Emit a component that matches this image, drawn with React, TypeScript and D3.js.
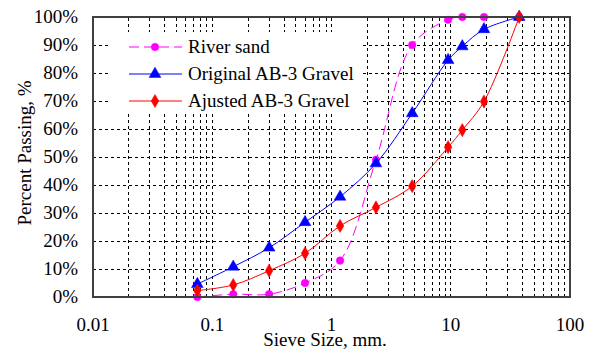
import * as d3 from "d3";

const sieveSizes = [0.075, 0.15, 0.3, 0.6, 1.18, 2.36, 4.75, 9.5, 12.5, 19, 37.5];
const riverSand = [0, 1, 1, 5, 13, 49, 90, 99, 100, 100, 100];
const originalAB3 = [4.6, 10.8, 17.6, 26.7, 35.8, 47.7, 65.6, 84.6, 89.5, 95.6, 100];
const adjustedAB3 = [2.3, 4.3, 9.4, 15.6, 25.4, 32, 39.6, 53.5, 59.6, 69.8, 100];
const seriesNames = ["River sand", "Original AB-3 Gravel", "Ajusted AB-3 Gravel"];
const xTicks = [0.01, 0.1, 1, 10, 100];
const yTicks = [0, 10, 20, 30, 40, 50, 60, 70, 80, 90, 100];

const W = 595;
const H = 350;
const M = { top: 17, right: 25, bottom: 53, left: 93 };
const FONT = '"Liberation Serif", "DejaVu Serif", "Times New Roman", serif';

const series = [
  { name: seriesNames[0], values: riverSand, color: "#ff00ff", dash: "10,5", marker: "circle" },
  { name: seriesNames[1], values: originalAB3, color: "#0000ff", dash: null, marker: "triangle" },
  { name: seriesNames[2], values: adjustedAB3, color: "#ff0000", dash: null, marker: "diamond" },
];

function Marker({ type, x, y, color }: { type: string; x: number; y: number; color: string }) {
  const sym =
    type === "circle" ? d3.symbolCircle : type === "triangle" ? d3.symbolTriangle : d3.symbolDiamond;
  const size = type === "circle" ? 45 : type === "triangle" ? 60 : 50;
  const p = d3.symbol().type(sym).size(size)();
  return <path d={p || ""} transform={`translate(${x},${y})`} fill={color} stroke={color} strokeWidth={0.5} />;
}

export default function App() {
  const x = d3.scaleLog().domain([0.01, 100]).range([M.left, W - M.right]);
  const y = d3.scaleLinear().domain([0, 100]).range([H - M.bottom, M.top]);

  // minor log grid: 1..9 in each decade
  const minor: number[] = [];
  [0.01, 0.1, 1, 10].forEach((d) => {
    for (let k = 2; k <= 9; k++) minor.push(d * k);
  });
  minor.push(0.1, 1, 10);

  const line = d3
    .line<number>()
    .x((_, i) => x(sieveSizes[i]))
    .y((d) => y(d))
    .curve(d3.curveCatmullRom.alpha(0.5));

  const legend = { x0: 110, y0: 32, x1: 363, y1: 113 };
  const txt = { fontFamily: FONT, fontSize: 19, fill: "#000" };

  return (
    <svg width={W} height={H} style={{ display: "block", position: "absolute", left: 0, top: 0 }}>
      <rect width={W} height={H} fill="#fff" />
      <g stroke="#000" strokeWidth={1} strokeDasharray="3,3" shapeRendering="crispEdges">
        {minor.map((d, i) => (
          <line key={"v" + i} x1={x(d)} x2={x(d)} y1={y(0)} y2={y(100)} />
        ))}
        {yTicks.slice(1, -1).map((d) => (
          <line key={"h" + d} x1={x(0.01)} x2={x(100)} y1={y(d)} y2={y(d)} />
        ))}
      </g>
      <rect x={legend.x0} y={legend.y0} width={legend.x1 - legend.x0} height={legend.y1 - legend.y0} fill="#fff" />
      {series.map((s) => (
        <g key={s.name}>
          <path d={line(s.values) || ""} fill="none" stroke={s.color} strokeWidth={1} strokeDasharray={s.dash || undefined} />
          {s.values.map((v, i) => (
            <Marker key={i} type={s.marker} x={x(sieveSizes[i])} y={y(v)} color={s.color} />
          ))}
        </g>
      ))}
      <rect x={M.left} y={M.top} width={W - M.left - M.right} height={H - M.top - M.bottom} fill="none" stroke="#404040" strokeWidth={1.2} shapeRendering="crispEdges" />
      {yTicks.map((d) => (
        <text key={d} x={78} y={y(d)} dy="0.34em" textAnchor="end" style={txt}>
          {d}%
        </text>
      ))}
      {xTicks.map((d) => (
        <text key={d} x={x(d)} y={331} textAnchor="middle" style={txt}>
          {d}
        </text>
      ))}
      <text x={325} y={346} textAnchor="middle" style={txt}>
        Sieve Size, mm.
      </text>
      <text transform={`translate(31,153) rotate(-90)`} textAnchor="middle" style={txt}>
        Percent Passing, %
      </text>
      {series.map((s, i) => {
        const ly = 47 + i * 27;
        return (
          <g key={"l" + s.name}>
            <line x1={129} x2={182} y1={ly} y2={ly} stroke={s.color} strokeWidth={1} strokeDasharray={s.dash || undefined} />
            <Marker type={s.marker} x={155} y={ly} color={s.color} />
            <text x={188} y={ly} dy="0.34em" style={txt}>
              {s.name}
            </text>
          </g>
        );
      })}
    </svg>
  );
}
